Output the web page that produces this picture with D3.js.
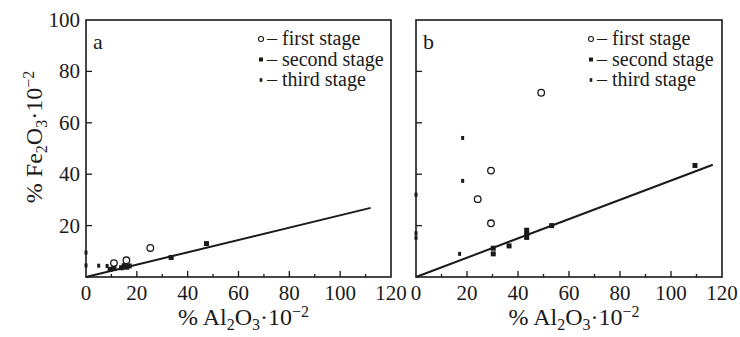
<!DOCTYPE html>
<html>
<head>
<meta charset="utf-8">
<script src="https://cdn.jsdelivr.net/npm/d3@7"></script>
<style>
  body { margin: 0; background: #fff; }
  svg { display: block; }
</style>
</head>
<body>
<svg id="chart" width="740" height="337"></svg>
<script>
// values, [%Al2O3, %Fe2O3] (x10^-2)
const xTicks = [0, 20, 40, 60, 80, 100, 120];
const xMinor = [10, 30, 50, 70, 90, 110];
const yTicks = [20, 40, 60, 80, 100];
const legendLabels = ["– first stage", "– second stage", "– third stage"];

const firstA = [[11, 5.4], [15.9, 6.5], [25.3, 11.3]];
const secondA = [[9.5, 3], [11, 3.4], [14, 3.6], [15, 4.4], [16, 3.8], [17, 4.3], [33.5, 7.6], [47.4, 13]];
const thirdA = [[0, 9.5], [0, 4.5], [5, 4.4], [8.3, 4.3]];
const fitA = [[0, 0], [112, 26.9]];

const firstB = [[24.2, 30.3], [29.4, 41.4], [29.4, 20.9], [49.1, 71.7]];
const secondB = [[30.3, 11.2], [30.3, 9.0], [36.5, 12.1], [43.4, 18.2], [43.4, 16.8], [43.4, 15.4], [53.2, 20.0], [109.4, 43.4]];
const thirdB = [[18.3, 54.1], [18.3, 37.4], [17.1, 9.0], [0, 32], [0, 17], [0, 15.2]];
const fitB = [[0, 0], [116.4, 43.7]];

const panels = [
  {label: "a", left: 86, right: 391, first: firstA, second: secondA, third: thirdA, fit: fitA, yLabels: true},
  {label: "b", left: 416, right: 722, first: firstB, second: secondB, third: thirdB, fit: fitB, yLabels: false}
];

const plotTop = 20, plotBottom = 277;
const ink = "#1a1a1a";
const serif = '"Liberation Serif"';
const svg = d3.select("#chart");

const y = d3.scaleLinear().domain([0, 100]).range([plotBottom, plotTop]);

// title with sub/superscripts: % X2O3·10^-2
function formula(sel, el) {
  sel.append("tspan").text(`% ${el}`);
  sel.append("tspan").attr("font-size", 16).attr("dy", 5).text("2");
  sel.append("tspan").attr("dy", -5).text("O");
  sel.append("tspan").attr("font-size", 16).attr("dy", 5).text("3");
  sel.append("tspan").attr("dy", -5).text("·10");
  sel.append("tspan").attr("font-size", 16).attr("dy", -8).text("−2");
}

panels.forEach(p => {
  const x = d3.scaleLinear().domain([0, 120]).range([p.left, p.right]);
  const g = svg.append("g");

  // frame
  g.append("rect")
    .attr("x", p.left).attr("y", plotTop)
    .attr("width", p.right - p.left).attr("height", plotBottom - plotTop)
    .attr("fill", "none").attr("stroke", ink).attr("stroke-width", 1.6);

  // inward ticks
  g.selectAll(".xt").data(xTicks.slice(1, -1)).join("line")
    .attr("x1", d => x(d)).attr("x2", d => x(d))
    .attr("y1", plotBottom).attr("y2", plotBottom - 6)
    .attr("stroke", ink).attr("stroke-width", 1.3);
  g.selectAll(".xm").data(xMinor).join("line")
    .attr("x1", d => x(d)).attr("x2", d => x(d))
    .attr("y1", plotBottom).attr("y2", plotBottom - 3)
    .attr("stroke", ink).attr("stroke-width", 1.3);
  g.selectAll(".yt").data(yTicks.slice(0, -1)).join("line")
    .attr("x1", p.left).attr("x2", p.left + 6)
    .attr("y1", d => y(d)).attr("y2", d => y(d))
    .attr("stroke", ink).attr("stroke-width", 1.3);

  // tick labels
  g.selectAll(".xl").data(xTicks).join("text")
    .attr("x", d => x(d)).attr("y", 300)
    .attr("text-anchor", "middle")
    .attr("font-size", 21).attr("fill", ink)
    .style("font-family", serif)
    .text(d => d);
  if (p.yLabels) {
    g.selectAll(".yl").data(yTicks).join("text")
      .attr("x", p.left - 6).attr("y", d => y(d) + 7)
      .attr("text-anchor", "end")
      .attr("font-size", 21).attr("fill", ink)
      .style("font-family", serif)
      .text(d => d);
  }

  // x title
  g.append("text")
    .attr("x", (p.left + p.right) / 2 + 5).attr("y", 325)
    .attr("text-anchor", "middle")
    .attr("font-size", 24).attr("fill", ink)
    .style("font-family", serif)
    .call(formula, "Al");

  // panel letter
  g.append("text")
    .attr("x", p.left + 7).attr("y", 49)
    .attr("font-size", 22).attr("fill", ink)
    .style("font-family", serif)
    .text(p.label);

  // fit line
  g.append("path")
    .datum(p.fit)
    .attr("d", d3.line().x(d => x(d[0])).y(d => y(d[1])))
    .attr("fill", "none").attr("stroke", ink).attr("stroke-width", 2);

  // points
  g.selectAll(".p1").data(p.first).join("circle")
    .attr("cx", d => x(d[0])).attr("cy", d => y(d[1]))
    .attr("r", 3.3)
    .attr("fill", "#fff").attr("stroke", ink).attr("stroke-width", 1.3);
  g.selectAll(".p2").data(p.second).join("rect")
    .attr("x", d => x(d[0]) - 2.5).attr("y", d => y(d[1]) - 2.5)
    .attr("width", 5).attr("height", 5)
    .attr("fill", ink);
  g.selectAll(".p3").data(p.third).join("rect")
    .attr("x", d => x(d[0]) - 1.5).attr("y", d => y(d[1]) - 2)
    .attr("width", 3).attr("height", 4)
    .attr("fill", ink);

  // legend
  const lx = p.left + 175, ly = [39, 59.5, 80];
  const lg = g.append("g");
  lg.append("circle").attr("cx", lx).attr("cy", ly[0]).attr("r", 2.5)
    .attr("fill", "#fff").attr("stroke", ink).attr("stroke-width", 1.1);
  lg.append("rect").attr("x", lx - 2).attr("y", ly[1] - 2).attr("width", 4).attr("height", 4).attr("fill", ink);
  lg.append("rect").attr("x", lx - 1.3).attr("y", ly[2] - 1.8).attr("width", 2.6).attr("height", 3.6).attr("fill", ink);
  lg.selectAll("text").data(legendLabels).join("text")
    .attr("x", lx + 6).attr("y", (d, i) => ly[i] + 6)
    .attr("font-size", 20).attr("fill", ink)
    .style("font-family", serif)
    .text(d => d);
});

// y title
svg.append("text")
  .attr("transform", "translate(42,137) rotate(-90)")
  .attr("text-anchor", "middle")
  .attr("font-size", 24).attr("fill", ink)
  .style("font-family", serif)
  .call(formula, "Fe");
</script>
</body>
</html>
